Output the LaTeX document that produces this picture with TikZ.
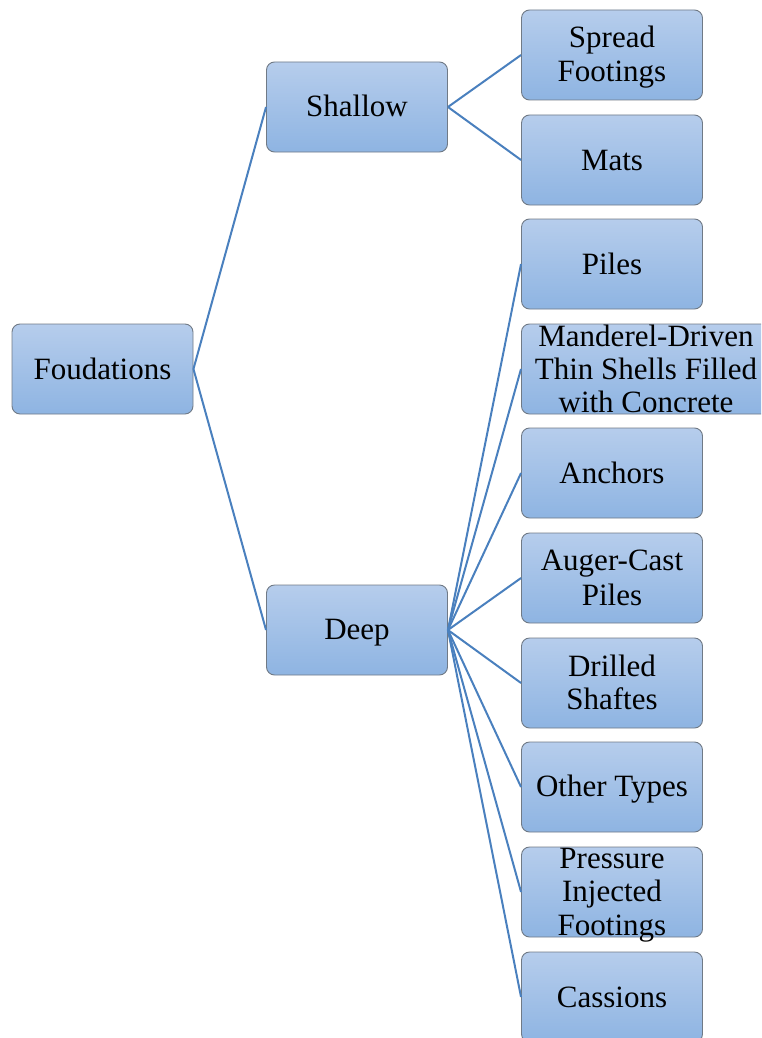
\documentclass[tikz,border=0pt]{standalone}
\usepackage{fontspec}
\setmainfont{Liberation Serif}
\definecolor{boxtop}{RGB}{182,205,236}
\definecolor{boxbot}{RGB}{142,180,226}
\definecolor{boxline}{RGB}{112,122,134}
\definecolor{conn}{RGB}{74,128,190}
\newcommand\sr{\rule[-6.5pt]{0pt}{33pt}}
\tikzset{
  box/.style={draw=boxline, line width=0.9pt, rounded corners=8pt, top color=boxtop, bottom color=boxbot, minimum width=181pt, minimum height=90pt, inner sep=0pt},
  lbl/.style={inner sep=0pt, align=center, font=\fontsize{31}{33}\selectfont},
  link/.style={draw=conn, line width=2pt}
}
\begin{document}
\begin{tikzpicture}[x=1pt,y=-1pt]
\useasboundingbox (0,0) rectangle (761,1038);
\clip (0,0) rectangle (761,1038);
% boxes
\node[box] (F) at (102.5,369) {};
\node[box] (S) at (357,107) {};
\node[box] (D) at (357,630) {};
\node[box] (c1) at (612,55) {};
\node[box] (c2) at (612,160) {};
\node[box] (c3) at (612,264) {};
\node[box, minimum width=252pt, anchor=west] (c4) at (521,369) {};
\node[box] (c5) at (612,473) {};
\node[box] (c6) at (612,578) {};
\node[box] (c7) at (612,683) {};
\node[box] (c8) at (612,787) {};
\node[box] (c9) at (612,892) {};
\node[box] (c10) at (612,997) {};
% connectors
\draw[link] (F.east) -- (S.west);
\draw[link] (F.east) -- (D.west);
\draw[link] (S.east) -- (c1.west);
\draw[link] (S.east) -- (c2.west);
\foreach \c in {c3,c4,c5,c6,c7,c8,c9,c10}{
  \draw[link] (D.east) -- (\c.west);
}
% labels
\node[lbl] (tF) at (F) {\sr Foudations};
\node[lbl] (tS) at (S) {\sr Shallow};
\node[lbl] (tD) at (D) {\sr Deep};
\node[lbl] (t1) at (c1) {\sr Spread\\\sr Footings};
\node[lbl] (t2) at (c2) {\sr Mats};
\node[lbl] (t3) at (c3) {\sr Piles};
\node[lbl] (t4) at (646,369) {\sr Manderel-Driven\\\sr Thin Shells Filled\\\sr with Concrete};
\node[lbl] (t5) at (c5) {\sr Anchors};
\node[lbl] (t6) at (c6) {\sr Auger-Cast\\\sr Piles};
\node[lbl] (t7) at (c7) {\sr Drilled\\\sr Shaftes};
\node[lbl] (t8) at (c8) {\sr Other Types};
\node[lbl] (t9) at (c9) {\sr Pressure\\\sr Injected\\\sr Footings};
\node[lbl] (t10) at (c10) {\sr Cassions};
\end{tikzpicture}
\end{document}
